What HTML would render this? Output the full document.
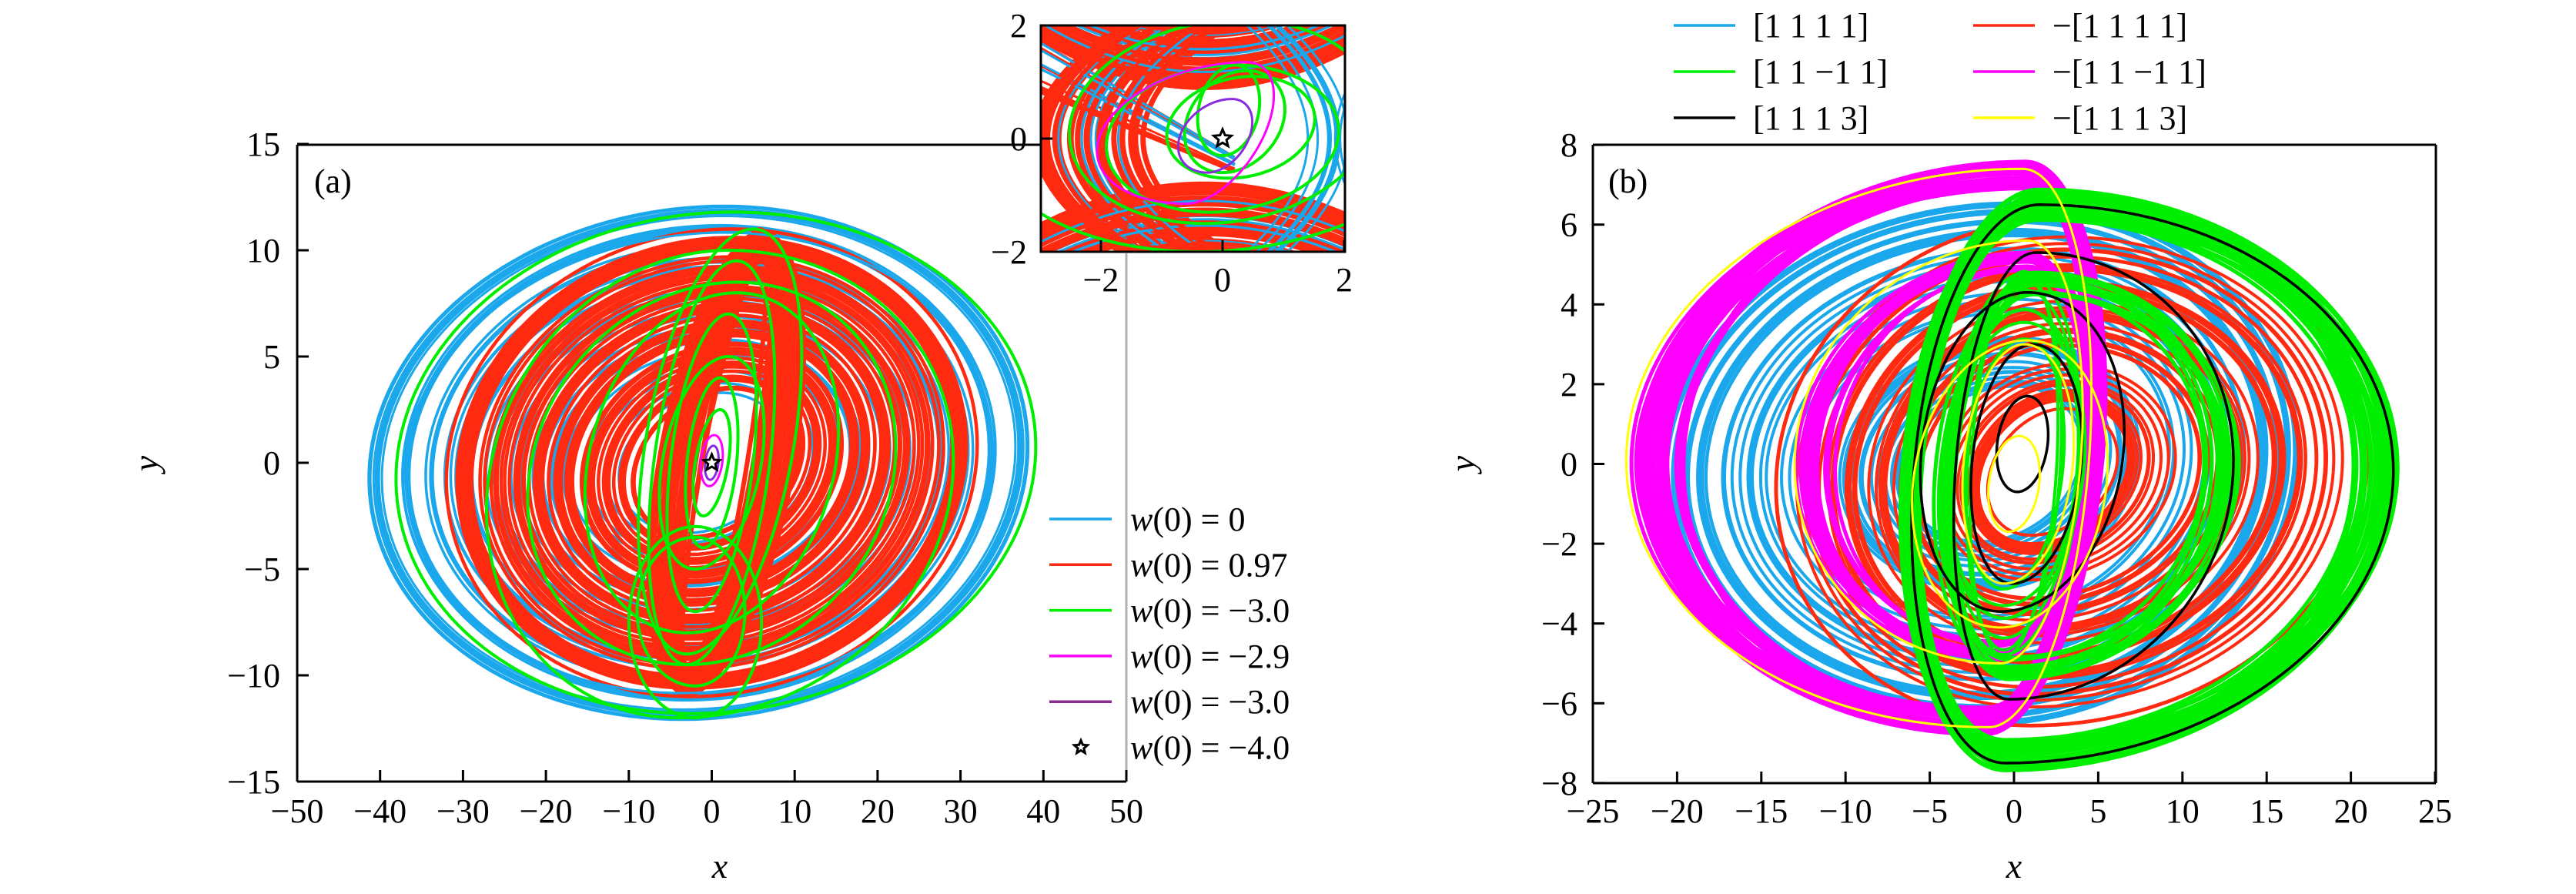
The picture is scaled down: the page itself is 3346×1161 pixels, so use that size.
<!DOCTYPE html>
<html><head><meta charset="utf-8">
<style>
html,body{margin:0;padding:0;background:#fff;}
svg{display:block;}
text{font-family:"Liberation Serif",serif;fill:#000;}
</style></head>
<body>
<svg id="s" width="3346" height="1161" viewBox="0 0 3346 1161" xmlns="http://www.w3.org/2000/svg">
<defs>
<clipPath id="ca"><rect x="386" y="188" width="1077" height="827"/></clipPath>
<clipPath id="ci"><rect x="1352" y="33" width="395" height="294"/></clipPath>
<clipPath id="cb"><rect x="2069" y="188" width="1095" height="829"/></clipPath>
</defs>
<g id="ga" clip-path="url(#ca)"></g>
<rect x="1352" y="33" width="395" height="294" fill="#fff"/>
<g id="gi" clip-path="url(#ci)"></g>
<g id="gb" clip-path="url(#cb)"></g>
<g id="ax"></g>
</svg>
<script>
var NS="http://www.w3.org/2000/svg";
var seed=7;function rnd(){seed=(seed*16807)%2147483647;return (seed-1)/2147483646;}
function el(p,tag,at,txt){var e=document.createElementNS(NS,tag);for(var k in at)e.setAttribute(k,at[k]);if(txt!==undefined)e.textContent=txt;p.appendChild(e);return e;}
var BL="#1aa7ec",RD="#ff2a10",GR="#00ee00",MG="#ff00ff",PU="#8a2be2",BK="#000",YE="#ffff00";
function loop(g,X,Y,o,col,w){
  var d="";for(var i=0;i<=160;i++){var t=i/160*2*Math.PI;var c=Math.cos(t),s=Math.sin(t);
    var a=c<0?o.aL:o.aR;var x=o.cx+a*c+o.sh*s;var y=o.cy+o.b*s;
    d+=(i?"L":"M")+X(x).toFixed(1)+" "+Y(y).toFixed(1);}
  el(g,"path",{d:d,fill:"none",stroke:col,"stroke-width":w});
}
// ===== Panel a =====
var ga=document.getElementById("ga");
var Xa=function(x){return 386+(x+50)*10.77},Ya=function(y){return 601-y*27.6};
var i,a;
for(i=0;i<40;i++){a=10+rnd()*28;loop(ga,Xa,Ya,{cx:-1,cy:0,aL:a,aR:a*0.97,b:a*0.3+0.3,sh:2},BL,3.5);}
for(i=0;i<70;i++){a=9+rnd()*23;loop(ga,Xa,Ya,{cx:0,cy:0,aL:a,aR:a,b:Math.min(11,a*0.33+0.5),sh:2.5},RD,4.5);}
for(i=0;i<30;i++){a=3+rnd()*5;loop(ga,Xa,Ya,{cx:1+rnd(),cy:0,aL:a,aR:a,b:9.5+rnd()*1.5,sh:4.5},RD,6);}
for(i=0;i<9;i++){a=36+rnd()*4.5;loop(ga,Xa,Ya,{cx:-1,cy:0,aL:a,aR:a*0.97,b:a*0.3,sh:2.5},BL,3);}
[[0,0,38,39,11.8,2.5],[0,0,7,7,9.5,3],[0,0,5,5,7,2],[0,0,3,3,4,1],[0,0,2,2,2.5,1],[0,-0.5,22,22,9,3],[0,0,15,15,8,3],[-2,-7,7,6,3.5,0],[-2,-7.5,8,8,4.5,0],[1,1,9,9,10,4],[0,0,6,6,5,2],[-1,-1,26,30,11,3]].forEach(function(p){
 loop(ga,Xa,Ya,{cx:p[0],cy:p[1],aL:p[2],aR:p[3],b:p[4],sh:p[5]},GR,4);});
loop(ga,Xa,Ya,{cx:0,cy:0.1,aL:1.3,aR:1.3,b:1.2,sh:0.3},MG,3);
loop(ga,Xa,Ya,{cx:0,cy:0,aL:0.8,aR:0.8,b:0.8,sh:0.2},PU,3);
function star(p,x,y,r){var d="";for(var k=0;k<10;k++){var rr=k%2?r*0.45:r;var an=-Math.PI/2+k*Math.PI/5;d+=(k?"L":"M")+(x+rr*Math.cos(an)).toFixed(1)+" "+(y+rr*Math.sin(an)).toFixed(1);}el(p,"path",{d:d+"Z",fill:"#fff",stroke:"#000","stroke-width":3});}
star(ga,Xa(0),Ya(0),11);
// ===== Inset =====
var gi=document.getElementById("gi");
var Xi=function(x){return 1588+x*79},Yi=function(y){return 180-y*73.5};
function pth(g,pts,col,w){var d="";pts.forEach(function(p,j){d+=(j?"L":"M")+Xi(p[0]).toFixed(1)+" "+Yi(p[1]).toFixed(1);});el(g,"path",{d:d,fill:"none",stroke:col,"stroke-width":w});}
for(i=0;i<45;i++){var k=rnd();var col=rnd()<0.72?RD:BL;var w=col==RD?(rnd()<0.5?7:3.5):3;
 var P=[],j,u;
 // left "(" arcs
 for(j=0;j<=40;j++){u=-2.2+j*4.4/40;P.push([-1.3-k*1.8+0.35*u*u,u]);}pth(gi,P,col,w);
 // top arcs
 P=[];for(j=0;j<=40;j++){u=-3.2+j*5.4/40;P.push([u,0.9+k*1.2+0.12*(u+0.3)*(u+0.3)]);}pth(gi,P,col,w);
 // bottom arcs
 P=[];for(j=0;j<=40;j++){u=-3.2+j*5.4/40;P.push([u,-0.8-k*1.3-0.1*(u+0.3)*(u+0.3)]);}pth(gi,P,col,w);
 // diagonals
 if(i%3==0){P=[[-3,1.8-k],[0.2,-0.3-k*0.3]];pth(gi,P,col,3);}
}
for(i=0;i<10;i++){var k2=rnd();var P=[];for(var j=0;j<=40;j++){var u=-2.2+j*4.4/40;P.push([1.3+k2*0.8-0.25*u*u,u]);}pth(gi,P,BL,3);
 P=[];for(j=0;j<=40;j++){u=-2.2+j*4.4/40;P.push([1.8+k2*0.4+0.25*u*u,u]);}pth(gi,P,BL,3);}
[[0,0.3,2.5,2.5,1.8,0.3],[0,0,1.9,1.9,1.3,0.2],[0.2,0.3,0.8,0.8,0.9,0.2],[0.3,0.2,1.2,1.2,0.9,0.2],[0,0.6,4,4,2.6,0.4],[0.1,0.5,0.5,0.5,0.8,0.1]].forEach(function(p){
 loop(gi,Xi,Yi,{cx:p[0],cy:p[1],aL:p[2],aR:p[3],b:p[4],sh:p[5]},GR,4);});
loop(gi,Xi,Yi,{cx:-0.1,cy:0.1,aL:1.9,aR:0.8,b:1.25,sh:0.5},MG,3);
loop(gi,Xi,Yi,{cx:-0.05,cy:0.05,aL:0.65,aR:0.5,b:0.65,sh:0.2},PU,3);
star(gi,Xi(0),Yi(0),12);
// ===== Panel b =====
var gb=document.getElementById("gb");
var Xb=function(x){return 2069+(x+25)*21.88},Yb=function(y){return 602.5-y*51.8};
for(i=0;i<45;i++){a=5+rnd()*15.5;loop(gb,Xb,Yb,{cx:-1,cy:0,aL:a,aR:a*0.9,b:a*0.32+0.2,sh:1},BL,4);}
for(i=0;i<45;i++){a=4+rnd()*15.5;loop(gb,Xb,Yb,{cx:2,cy:-0.2,aL:a*0.85,aR:a,b:a*0.32+0.3,sh:1},RD,4);}
for(i=0;i<30;i++){a=19+rnd()*3.2;loop(gb,Xb,Yb,{cx:-0.5,cy:0.4,aL:a,aR:4.5+rnd()*1.5,b:6.5+rnd()*0.7,sh:1.2},MG,5);}
for(i=0;i<12;i++){a=10.5+rnd()*2.5;loop(gb,Xb,Yb,{cx:0,cy:0.2,aL:a,aR:4+rnd()*1.2,b:4.6+rnd()*0.5,sh:0.8},MG,5);}
for(i=0;i<30;i++){a=19.5+rnd()*2.8;loop(gb,Xb,Yb,{cx:0.5,cy:-0.4,aL:6+rnd()*1.2,aR:a,b:6.5+rnd()*0.8,sh:1},GR,5);}
for(i=0;i<12;i++){a=10.5+rnd()*2.5;loop(gb,Xb,Yb,{cx:0.5,cy:-0.3,aL:4+rnd()*1.2,aR:a,b:4.5+rnd()*0.6,sh:0.8},GR,5);}
for(i=0;i<8;i++){a=2.5+rnd()*2;loop(gb,Xb,Yb,{cx:0,cy:0,aL:a,aR:a,b:3+rnd()*2,sh:0.6},GR,4);}
[[0.5,-0.5,6.5,22,7,1],[0.5,-0.3,4,12.5,5.6,0.8],[0,0.3,5.5,6.5,4,0.8],[0.5,0,3,3.5,3,0.6],[0.5,0.5,1.5,1.5,1.2,0.3]].forEach(function(p){
 loop(gb,Xb,Yb,{cx:p[0],cy:p[1],aL:p[2],aR:p[3],b:p[4],sh:p[5]},BK,3.5);});
[[-0.5,0.4,22.5,5,7,1],[0,0.3,13,4,5.3,0.8],[0,-0.5,6,5.5,3.6,0.8],[0,0,3,3.5,3,0.6],[0,-0.5,1.5,1.5,1.2,0.3]].forEach(function(p){
 loop(gb,Xb,Yb,{cx:p[0],cy:p[1],aL:p[2],aR:p[3],b:p[4],sh:p[5]},YE,3);});
// ===== Axes =====
var ax=document.getElementById("ax");
function line(x1,y1,x2,y2,c,w){el(ax,"line",{x1:x1,y1:y1,x2:x2,y2:y2,stroke:c||"#000","stroke-width":w||3});}
function txt(x,y,s,anc,fs,extra){var a={x:x,y:y,"font-size":fs||44,"text-anchor":anc||"middle"};for(var k in extra)a[k]=extra[k];return el(ax,"text",a,s);}
function lab(v){return v<0?"\u2212"+(-v):""+v;}
line(386,188,386,1015);line(386,1015,1463,1015);line(386,188,1352,188);
line(1463,329,1463,1015,"#b0b0b0",3);
for(var v=-50;v<=50;v+=10){var x=Xa(v);line(x,1015,x,1000);txt(x,1068,lab(v));}
for(v=-15;v<=15;v+=5){var y=Ya(v);line(386,y,401,y);txt(364,y+15,lab(v),"end");}
txt(408,250,"(a)","start");
txt(935,1140,"x","middle",46,{"font-style":"italic"});
txt(205,602,"y","middle",46,{"font-style":"italic",transform:"rotate(-90 205 602)"});
el(ax,"rect",{x:1352,y:33,width:395,height:294,fill:"none",stroke:"#000","stroke-width":3});
[-2,0,2].forEach(function(v){var x=Xi(v);line(x,327,x,312);txt(x,378,lab(v));});
[-2,0,2].forEach(function(v){var y=Yi(v);line(1352,y,1367,y);txt(1334,y+15,lab(v),"end");});
var la=[[BL,"0"],[RD,"0.97"],[GR,"\u22123.0"],[MG,"\u22122.9"],["#8b2f8f","\u22123.0"],[null,"\u22124.0"]];
la.forEach(function(r,k){var y=674+k*59.3;if(r[0])line(1363,y,1444,y,r[0],3.5);else star(ax,1404,y,9);
 var t=txt(1468,y+15,"","start",44);el(t,"tspan",{"font-style":"italic"},"w");el(t,"tspan",{},"(0) = "+r[1]);});
line(2069,188,3164,188);line(2069,188,2069,1017);line(2069,1017,3164,1017);line(3164,188,3164,1017);
for(v=-25;v<=25;v+=5){x=Xb(v);line(x,1017,x,1002);txt(x,1068,lab(v));}
for(v=-8;v<=8;v+=2){y=Yb(v);line(2069,y,2084,y);txt(2049,y+15,lab(v),"end");}
txt(2089,250,"(b)","start");
txt(2616,1140,"x","middle",46,{"font-style":"italic"});
txt(1915,602,"y","middle",46,{"font-style":"italic",transform:"rotate(-90 1915 602)"});
var lb=[[BL,"[1  1  1  1]",2174],[GR,"[1  1  \u22121  1]",2174],[BK,"[1  1  1  3]",2174],[RD,"\u2212[1  1  1  1]",2563],[MG,"\u2212[1  1  \u22121  1]",2563],[YE,"\u2212[1  1  1  3]",2563]];
lb.forEach(function(r,k){var y=33+(k%3)*60;line(r[2],y,r[2]+80,y,r[0],3.5);txt(r[2]+103,y+15,r[1],"start",44,{"xml:space":"preserve"});});
</script>
</body></html>
